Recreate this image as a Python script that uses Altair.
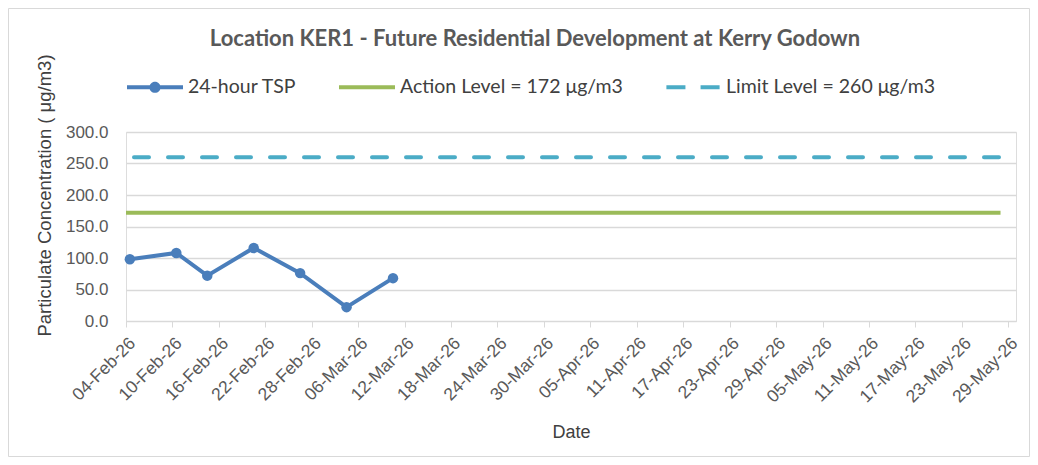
import altair as alt
import pandas as pd

# ---- data ----
tsp_dates = ["2026-02-04", "2026-02-10", "2026-02-14", "2026-02-20",
             "2026-02-26", "2026-03-04", "2026-03-10"]
tsp_values = [98, 108, 72, 116, 76, 22, 68]

ref_dates = ["2026-02-04", "2026-05-28"]
action_level = 172
limit_level = 260

series_names = ["24-hour TSP", "Action Level = 172 μg/m3", "Limit Level = 260 μg/m3"]
series_colors = ["#4a7ebb", "#9bbb59", "#4bacc6"]

tick_dates = ["2026-02-04", "2026-02-10", "2026-02-16", "2026-02-22", "2026-02-28",
              "2026-03-06", "2026-03-12", "2026-03-18", "2026-03-24", "2026-03-30",
              "2026-04-05", "2026-04-11", "2026-04-17", "2026-04-23", "2026-04-29",
              "2026-05-05", "2026-05-11", "2026-05-17", "2026-05-23", "2026-05-29"]
x_domain = ["2026-02-04", "2026-05-30"]
y_ticks = [0, 50, 100, 150, 200, 250, 300]

FONT = "Lato"

def ms(d):
    return int(pd.Timestamp(d, tz="UTC").value // 10**6)

# ---- tables ----
tsp_df = pd.DataFrame({
    "t": pd.to_datetime(tsp_dates, utc=True) + pd.Timedelta(hours=12),
    "v": tsp_values,
})
action_df = pd.DataFrame({"t": pd.to_datetime(ref_dates, utc=True),
                          "v": [action_level] * len(ref_dates)})
limit_df = pd.DataFrame({"t": pd.to_datetime(ref_dates, utc=True),
                         "v": [limit_level] * len(ref_dates)})
legend_df = pd.DataFrame({"series": series_names,
                          "t": pd.to_datetime([ref_dates[0]] * 3, utc=True),
                          "v": [-100] * 3})

x_enc = alt.X(
    "t:T",
    scale=alt.Scale(type="utc", domain=[ms(d) for d in x_domain], nice=False),
    axis=alt.Axis(
        values=[ms(d) for d in tick_dates], format="%d-%b-%y",
        labelAngle=-45, labelFontSize=17.5, labelColor="#595959", labelPadding=7,
        tickSize=6, tickColor="#d9d9d9", domainColor="#d9d9d9", grid=False,
        title="Date", titleFontSize=18, titleFontWeight="normal", titleColor="#404040",
        titleX=445, titleY=111, titleBaseline="middle", labelOverlap=False,
        labelFlush=False,
    ),
)
y_enc = alt.Y(
    "v:Q",
    scale=alt.Scale(domain=[0, 300], nice=False),
    axis=alt.Axis(
        values=y_ticks, format=".1f", labelFontSize=17, labelColor="#595959",
        labelPadding=18, ticks=False, tickSize=0, domain=False, labelOverlap=False,
        grid=True, gridColor="#d9d9d9", gridWidth=1.3, labelFlush=False,
        title="Particulate Concentration ( μg/m3)", titleFontSize=18.5,
        titleFontWeight="normal", titleColor="#404040", titleAngle=-90,
        titleX=-82, titleY=63, titleAlign="center", titleBaseline="middle",
    ),
)

border = alt.Chart(alt.Data(values=[{}])).mark_rect(
    fill="transparent", stroke="#d9d9d9", strokeWidth=1
).encode(
    x=alt.value(-117.5), x2=alt.value(903.5), y=alt.value(-123.5), y2=alt.value(324.5)
)

limit_line = alt.Chart(limit_df).mark_line(
    color=series_colors[2], strokeWidth=4, strokeDash=[15, 19], strokeDashOffset=26,
    strokeCap="round"
).encode(x=x_enc, y=y_enc)

action_line = alt.Chart(action_df).mark_line(
    color=series_colors[1], strokeWidth=4, strokeCap="butt"
).encode(x=x_enc, y=y_enc)

tsp_line = alt.Chart(tsp_df).mark_line(
    color=series_colors[0], strokeWidth=4
).encode(x=x_enc, y=y_enc)

tsp_points = alt.Chart(tsp_df).mark_point(
    filled=True, color=series_colors[0], size=110, opacity=1
).encode(x=x_enc, y=y_enc)

shape_paths = [
    "M-1,-0.07H1V0.07H-1Z M0.2,0A0.2,0.2 0 1 1 -0.2,0A0.2,0.2 0 1 1 0.2,0Z",
    "M-1,-0.07H1V0.07H-1Z",
    "M-0.95,-0.07H-0.27V0.07H-0.95Z M0.27,-0.07H0.95V0.07H0.27Z",
]
leg = alt.Legend(
    orient="none", legendX=1, legendY=-73, direction="horizontal", title=None,
    symbolSize=3136, symbolStrokeWidth=0, symbolOpacity=1,
    labelFontSize=19.5, labelFont=FONT, labelColor="#404040", labelLimit=400,
    columnPadding=42, labelOffset=5, padding=0,
)
legend_layer = alt.Chart(legend_df).mark_point(
    filled=True, opacity=1, clip=True, size=10
).encode(
    x=x_enc, y=y_enc,
    color=alt.Color("series:N", scale=alt.Scale(domain=series_names, range=series_colors), legend=leg),
    shape=alt.Shape("series:N", scale=alt.Scale(domain=series_names, range=shape_paths), legend=leg),
)

chart = alt.layer(
    border, limit_line, action_line, tsp_line, tsp_points, legend_layer
).properties(
    width=890, height=189,
    title=alt.TitleParams(
        "Location KER1 - Future Residential Development at Kerry Godown",
        font=FONT, fontSize=22, fontWeight="bold", color="#595959",
        anchor="middle", dx=-36, dy=43, offset=0,
    ),
    autosize=alt.AutoSizeParams(type="none"),
    padding={"left": 118, "top": 124, "right": 14, "bottom": 136},
).configure_view(stroke=None).configure_axis(
    labelFont=FONT, titleFont=FONT
).configure(background="white")

chart.save("out.html", embed_options={"renderer": "svg", "actions": False})
